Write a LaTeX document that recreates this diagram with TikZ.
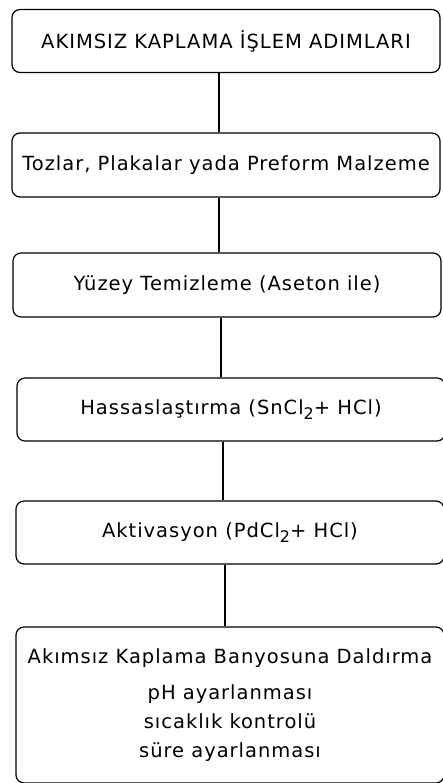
\documentclass[tikz,border=0pt]{standalone}
\usepackage{fontspec}
\setmainfont{DejaVu Sans}[LetterSpace=5]
\usetikzlibrary{positioning}

% lowered index for the chemical formulas
\newcommand{\chemidx}[1]{\raisebox{-5pt}{\fontsize{16}{16}\selectfont #1}}

\begin{document}
\begin{tikzpicture}[
        x=1pt, y=-1pt,
        every node/.style={font=\fontsize{19.5}{29}\selectfont},
        stepbox/.style={rectangle, draw=black, line width=1.2pt, fill=white, rounded corners=8pt, minimum width=428pt, minimum height=63pt, align=center, inner sep=0pt},
        link/.style={draw=black, line width=1.2pt}
        ]
        \useasboundingbox (0,0) rectangle (442,783);

        % Process steps, top to bottom
        \node[stepbox] (title) at (226,41) {AKIMSIZ KAPLAMA İŞLEM ADIMLARI};
        \node[stepbox, minimum height=64pt] (powder) at (226,165) {Tozlar, Plakalar yada Preform Malzeme};
        \node[stepbox, minimum height=64pt] (clean) at (227,285) {Yüzey Temizleme (Aseton ile)};
        \node[stepbox] (sens) at (231,409.5) {Hassaslaştırma (SnCl\chemidx{2}+ HCl)};
        \node[stepbox] (activ) at (230,532.5) {Aktivasyon (PdCl\chemidx{2}+ HCl)};
        \node[stepbox, minimum height=156pt] (bath) at (230,705) {Akımsız Kaplama Banyosuna Daldırma\\[7pt]
            pH ayarlanması\\ sıcaklık kontrolü\\ süre ayarlanması};

        % Plain connectors between the steps
        \draw[link] ([xshift=-7pt]title.south) -- ([xshift=-7pt]title.south |- powder.north);
        \draw[link] ([xshift=-7pt]powder.south) -- ([xshift=-7pt]powder.south |- clean.north);
        \draw[link] ([xshift=-6pt]clean.south) -- ([xshift=-6pt]clean.south |- sens.north);
        \draw[link] ([xshift=-8pt]sens.south) -- ([xshift=-8pt]sens.south |- activ.north);
        \draw[link] ([xshift=-5pt]activ.south) -- ([xshift=-5pt]activ.south |- bath.north);

    \end{tikzpicture}
\end{document}
